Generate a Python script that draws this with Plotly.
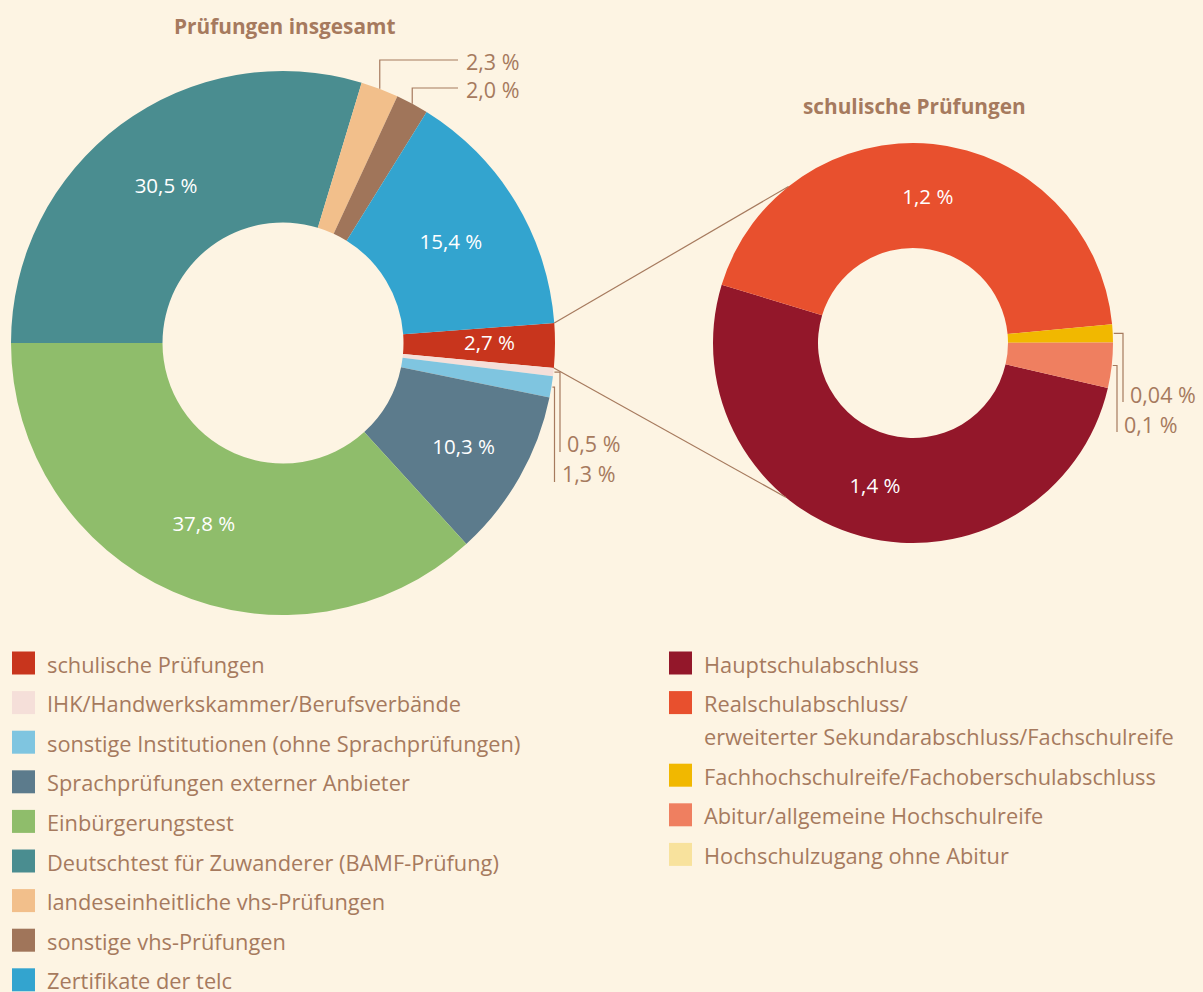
import math
import plotly.graph_objects as go

# ---------------- data ----------------
left_labels = [
    "schulische Prüfungen",
    "IHK/Handwerkskammer/Berufsverbände",
    "sonstige Institutionen (ohne Sprachprüfungen)",
    "Sprachprüfungen externer Anbieter",
    "Einbürgerungstest",
    "Deutschtest für Zuwanderer (BAMF-Prüfung)",
    "landeseinheitliche vhs-Prüfungen",
    "sonstige vhs-Prüfungen",
    "Zertifikate der telc",
]
left_values = [2.7, 0.5, 1.3, 10.3, 37.8, 30.5, 2.3, 2.0, 15.4]
left_text = ["2,7 %", "0,5 %", "1,3 %", "10,3 %", "37,8 %", "30,5 %", "2,3 %", "2,0 %", "15,4 %"]
left_colors = ["#c8351d", "#f5dfd9", "#7fc5e0", "#5c7b8c", "#8fbd6b",
               "#4a8d90", "#f2bf8b", "#a0755a", "#33a4cf"]

right_labels = [
    "Hauptschulabschluss",
    "Realschulabschluss/<br>erweiterter Sekundarabschluss/Fachschulreife",
    "Fachhochschulreife/Fachoberschulabschluss",
    "Abitur/allgemeine Hochschulreife",
    "Hochschulzugang ohne Abitur",
]
right_values = [1.4, 1.2, 0.04, 0.1, 0.0]
right_text = ["1,4 %", "1,2 %", "0,04 %", "0,1 %", ""]
right_colors = ["#93172a", "#e8502e", "#f1b800", "#ef7f60", "#f8e29d"]

left_title = "Prüfungen insgesamt"
right_title = "schulische Prüfungen"

# slices labelled outside the ring / by a separate inside annotation
left_outside = [1, 2, 6, 7]
left_manual_inside = [0]
right_outside = [2, 3]

# ---------------- layout constants ----------------
W, H = 1203, 992
BG = "#fdf4e3"
TXT = "#a67a5e"
FONT = "Open Sans"
INSIDE_SIZE = 20.5
LABEL_SIZE = 21.5
LEGEND_SIZE = 21.8
TITLE_SIZE = 20.8

L_CX, L_CY, L_R, L_HOLE, L_ROT = 283, 343, 272, 0.443, 85.8
R_CX, R_CY, R_R, R_HOLE, R_ROT = 913, 343, 200, 0.475, 103


def domain(cx, cy, r):
    return dict(x=[(cx - r) / W, (cx + r) / W], y=[(H - cy - r) / H, (H - cy + r) / H])


def mid_angles(values, rot):
    tot = sum(values)
    out, cum = [], 0.0
    for v in values:
        out.append(rot + 360 * (cum + v / 2) / tot)
        cum += v
    return out


def start_angles(values, rot):
    tot = sum(values)
    out, cum = [], 0.0
    for v in values:
        out.append(rot + 360 * cum / tot)
        cum += v
    return out


def edge_point(cx, cy, r, ang):
    a = math.radians(ang)
    return cx + r * math.sin(a), cy - r * math.cos(a)


def px(x):
    return x / W


def py(y):
    return 1 - y / H


fig = go.Figure()


def tpos(n, outside, manual=()):
    return ["none" if (i in outside or i in manual) else "inside" for i in range(n)]


fig.add_trace(go.Pie(
    labels=left_labels, values=left_values, text=left_text,
    textinfo="text", sort=False, direction="clockwise", rotation=L_ROT,
    hole=L_HOLE, domain=domain(L_CX, L_CY, L_R),
    marker=dict(colors=left_colors, line=dict(width=0)),
    textposition=tpos(len(left_values), left_outside, left_manual_inside),
    insidetextorientation="horizontal",
    textfont=dict(family=FONT, size=INSIDE_SIZE, color="white"),
    hoverinfo="skip", showlegend=False,
))

fig.add_trace(go.Pie(
    labels=right_labels, values=right_values, text=right_text,
    textinfo="text", sort=False, direction="clockwise", rotation=R_ROT,
    hole=R_HOLE, domain=domain(R_CX, R_CY, R_R),
    marker=dict(colors=right_colors, line=dict(width=0)),
    textposition=tpos(len(right_values), right_outside),
    insidetextorientation="horizontal",
    textfont=dict(family=FONT, size=INSIDE_SIZE, color="white"),
    hoverinfo="skip", showlegend=False,
))

shapes = []
annotations = []
LINE = dict(color="#a67a5e", width=1.2)


def polyline(points):
    path = "M " + " L ".join(f"{px(x):.5f},{py(y):.5f}" for x, y in points)
    shapes.append(dict(type="path", xref="paper", yref="paper", path=path, line=LINE))


def label(x, y, t, color=TXT, size=LABEL_SIZE, xanchor="left"):
    annotations.append(dict(x=px(x), y=py(y), xref="paper", yref="paper", text=t,
                            showarrow=False, xanchor=xanchor, yanchor="middle",
                            font=dict(family=FONT, size=size, color=color)))


lm = mid_angles(left_values, L_ROT)
rm = mid_angles(right_values, R_ROT)

# inside label of the thin "schulische Prüfungen" slice
for i in left_manual_inside:
    x0, y0 = edge_point(L_CX, L_CY, L_R * 0.76, lm[i])
    label(x0, y0 - 3, left_text[i], color="white", size=INSIDE_SIZE, xanchor="center")

# left top labels (landes, sonstige vhs): up then right
for i, yl in zip([6, 7], [60, 88]):
    x0, y0 = edge_point(L_CX, L_CY, L_R, lm[i])
    polyline([(x0, y0), (x0, yl), (458, yl)])
    label(464, yl + 1, left_text[i])

# left right-side labels (IHK, sonstige Institutionen): right then down
for i, xl, yb in zip([1, 2], [560, 554.5], [452, 482]):
    x0, y0 = edge_point(L_CX, L_CY, L_R + 1, lm[i])
    polyline([(x0, y0), (xl, y0), (xl, yb)])
    label(xl + 5, yb - 8, left_text[i])

# right donut small labels
for i, xl, yb in zip([2, 3], [1123, 1117], [402, 432]):
    x0, y0 = edge_point(R_CX, R_CY, R_R + 1, rm[i])
    polyline([(x0, y0), (xl, y0), (xl, yb)])
    label(xl + 5, yb - 8, right_text[i])

# connector lines from the "schulische Prüfungen" slice to the right donut
ls = start_angles(left_values, L_ROT)
tot = sum(left_values)
a_start = ls[0]
a_end = ls[0] + 360 * left_values[0] / tot
p1 = edge_point(L_CX, L_CY, L_R, a_start)
p2 = edge_point(L_CX, L_CY, L_R, a_end)
q1 = edge_point(R_CX, R_CY, R_R, 321.5)
q2 = edge_point(R_CX, R_CY, R_R, 219.5)
polyline([p1, q1])
polyline([p2, q2])

# titles
label(L_CX + 1, 26, f"<b>{left_title}</b>", size=TITLE_SIZE, xanchor="center")
label(R_CX + 1, 106, f"<b>{right_title}</b>", size=TITLE_SIZE, xanchor="center")

# manual legends
ROW = 39.6
LINE_H = 33
SQ = 23


def legend_item(x, y, color, t):
    shapes.append(dict(type="rect", xref="paper", yref="paper",
                       x0=px(x), x1=px(x + SQ), y0=py(y - SQ / 2), y1=py(y + SQ / 2),
                       fillcolor=color, line=dict(width=0)))
    for k, part in enumerate(t.split("<br>")):
        label(x + 33, y + 1 + k * LINE_H, part, size=LEGEND_SIZE)
    return t.count("<br>")


y = 663
for lab, col in zip(left_labels, left_colors):
    legend_item(12, y, col, lab)
    y += ROW

y = 663
for lab, col in zip(right_labels, right_colors):
    extra = legend_item(669, y, col, lab)
    y += ROW + extra * LINE_H

fig.update_layout(
    width=W, height=H,
    margin=dict(l=0, r=0, t=0, b=0),
    paper_bgcolor=BG, plot_bgcolor=BG,
    shapes=shapes, annotations=annotations,
    uniformtext=dict(minsize=INSIDE_SIZE, mode="show"),
    showlegend=False,
)

fig.write_html("out.html")
